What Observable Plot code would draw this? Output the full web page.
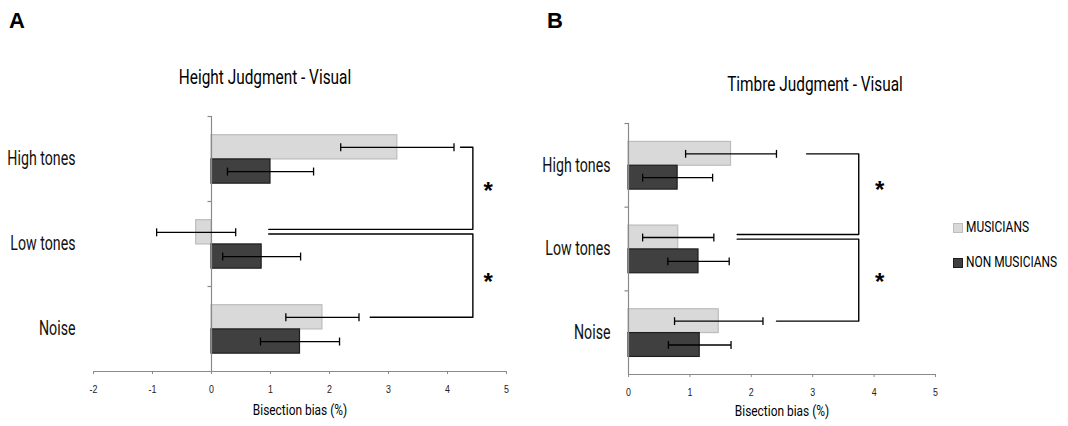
<!DOCTYPE html>
<html><head><meta charset="utf-8">
<script src="https://cdn.jsdelivr.net/npm/d3@7"></script>
<script src="https://cdn.jsdelivr.net/npm/@observablehq/plot@0.6"></script>
<style>
body{margin:0;background:#fff;}
#root{position:relative;width:1068px;height:426px;overflow:hidden;font-family:Roboto,"Liberation Sans",sans-serif;color:#000;}
.abs{position:absolute;white-space:nowrap;}
.title{font-size:20px;transform:translate(-50%,-50%) scaleX(0.77);}
.letter{font-family:"Liberation Sans",Arial,sans-serif;font-weight:bold;font-size:22px;}
.sw{position:absolute;width:8px;height:8px;}
.lg{font-size:15.5px;transform-origin:0 50%;transform:translateY(-50%) scaleX(0.77);}
</style></head><body><div id="root"></div>
<script>
const categories = ["High tones", "Low tones", "Noise"];
const groups = ["MUSICIANS", "NON MUSICIANS"];
// Panel A: Height Judgment - Visual
const heightMus = [3.15, -0.26, 1.88];
const heightMusErr = [0.96, 0.67, 0.62];
const heightNon = [1.00, 0.85, 1.50];
const heightNonErr = [0.73, 0.66, 0.67];
const xTicksA = [-2, -1, 0, 1, 2, 3, 4, 5];
// Panel B: Timbre Judgment - Visual
const timbreMus = [1.67, 0.81, 1.47];
const timbreMusErr = [0.74, 0.58, 0.72];
const timbreNon = [0.80, 1.14, 1.16];
const timbreNonErr = [0.57, 0.50, 0.51];
const xTicksB = [0, 1, 2, 3, 4, 5];
// significance brackets: from category index -> to category index, x at each end, x of spine, star position
const bracketsA = [
  {from: 0, to: 1, fromX: 4.22, toX: 0.97, spineX: 4.43, starX: 4.69, starY: 0.82},
  {from: 1, to: 2, fromX: 0.97, toX: 2.69, spineX: 4.43, starX: 4.69, starY: 1.89}
];
const bracketsB = [
  {from: 0, to: 1, fromX: 2.90, toX: 1.77, spineX: 3.75, starX: 4.09, starY: 0.74},
  {from: 1, to: 2, fromX: 1.77, toX: 2.41, spineX: 3.75, starX: 4.09, starY: 1.84}
];
const axisTitle = "Bisection bias (%)";

const GRAY = "#8a8a8a";
const MUS_FILL = "#d9d9d9", MUS_STROKE = "#bdbdbd";
const NON_FILL = "#404040", NON_STROKE = "#1e1e1e";
const MUS_Y = [0.22, 0.505], NON_Y = [0.505, 0.79];
const SQUASH = 0.77, SQUASH_CAT = 0.71;
const NS = "http://www.w3.org/2000/svg";

// horizontally condense the svg texts around their anchor point (the reference's lettering is narrow)
function squash(svg) {
  [...svg.querySelectorAll("text")].filter(t => t.textContent !== "*").forEach(el => {
    const sx = categories.includes(el.textContent) ? SQUASH_CAT : SQUASH;
    const r = el.getBoundingClientRect();
    const a = getComputedStyle(el).textAnchor;
    const px = a === "end" ? r.right : a === "middle" ? (r.left + r.right) / 2 : r.left;
    const parent = el.parentNode;
    const pt = svg.createSVGPoint(); pt.x = px; pt.y = r.top;
    const q = pt.matrixTransform(parent.getScreenCTM().inverse());
    const g = document.createElementNS(NS, "g");
    g.setAttribute("transform", `translate(${q.x},0) scale(${sx},1) translate(${-q.x},0)`);
    parent.insertBefore(g, el); g.appendChild(el);
  });
}

function panel(o) {
  const rows = [];
  categories.forEach((c, i) => {
    rows.push({cat: c, i, g: groups[0], v: o.mus[i], e: o.musErr[i], y1: i + MUS_Y[0], y2: i + MUS_Y[1]});
    rows.push({cat: c, i, g: groups[1], v: o.non[i], e: o.nonErr[i], y1: i + NON_Y[0], y2: i + NON_Y[1]});
  });
  const yc = d => (d.y1 + d.y2) / 2;
  const cap = 0.047;
  const capData = rows.flatMap(d => [{x: d.v - d.e, y: yc(d)}, {x: d.v + d.e, y: yc(d)}]);
  const mid = i => i + (MUS_Y[0] + MUS_Y[1]) / 2;
  const pts = [];
  o.brackets.forEach((b, k) => {
    const yTop = mid(b.from) + (b.from === 1 ? 0.02 : 0);
    const yBot = mid(b.to) - (b.to === 1 ? 0.035 : 0);
    pts.push({k, x: b.fromX, y: yTop}, {k, x: b.spineX, y: yTop}, {k, x: b.spineX, y: yBot}, {k, x: b.toX, y: yBot});
  });
  return Plot.plot({
    width: o.width, height: 426,
    marginLeft: o.ml, marginRight: o.mr, marginTop: o.mt, marginBottom: o.mb,
    x: {domain: o.xDomain, axis: null},
    y: {domain: [0, 3], reverse: true, axis: null},
    style: {fontFamily: 'Roboto,"Liberation Sans",sans-serif', background: "transparent", overflow: "visible"},
    marks: [
      Plot.ruleY([3], {stroke: GRAY, strokeWidth: 1}),
      Plot.axisX({ticks: o.xTicks, tickSize: 3, tickPadding: 10, tickFormat: d => String(d), label: null,
        fontSize: 11.5, fontFamily: '"Liberation Sans",Arial,sans-serif', stroke: GRAY, color: "#222"}),
      Plot.text([axisTitle], {frameAnchor: "bottom", dy: o.titleDy, fontSize: 15.5}),
      Plot.axisY({ticks: [0.5, 1.5, 2.5], tickFormat: d => categories[Math.floor(d)], tickSize: 0,
        tickPadding: o.labelPad, fontSize: 20, label: null, color: "#111"}),
      Plot.rect(rows, {x1: () => 0, x2: "v", y1: "y1", y2: "y2",
        fill: d => d.g === groups[0] ? MUS_FILL : NON_FILL,
        stroke: d => d.g === groups[0] ? MUS_STROKE : NON_STROKE, strokeWidth: 1.2}),
      Plot.ruleX([0], {stroke: GRAY, strokeWidth: 1.2}),
      Plot.link([0, 1, 2], {x1: () => o.tickLen, x2: () => 0, y1: d => d, y2: d => d, stroke: GRAY, strokeWidth: 1.2}),
      Plot.link(rows, {x1: d => d.v - d.e, x2: d => d.v + d.e, y1: yc, y2: yc, stroke: "#000", strokeWidth: 1.3}),
      Plot.link(capData, {x1: "x", x2: "x", y1: d => d.y - cap, y2: d => d.y + cap, stroke: "#000", strokeWidth: 1.3}),
      Plot.line(pts, {x: "x", y: "y", z: "k", stroke: "#000", strokeWidth: 1.4, curve: "linear"}),
      Plot.text(o.brackets, {x: "starX", y: "starY", text: () => "*", fontSize: 24, fontWeight: "bold",
        fontFamily: '"Liberation Sans",Arial,sans-serif', dy: 5})
    ]
  });
}

const root = document.getElementById("root");
function place(el, left, top) { el.style.position = "absolute"; el.style.left = left + "px"; el.style.top = top + "px"; root.appendChild(el); return el; }

const svgA = place(panel({mus: heightMus, musErr: heightMusErr, non: heightNon, nonErr: heightNonErr,
  xDomain: [-2, 5], xTicks: xTicksA, width: 534, ml: 93, mr: 28, mt: 116, mb: 55, labelPad: 18, titleDy: 43,
  brackets: bracketsA, tickLen: -0.068}), 0, 0);
const svgB = place(panel({mus: timbreMus, musErr: timbreMusErr, non: timbreNon, nonErr: timbreNonErr,
  xDomain: [0, 5], xTicks: xTicksB, width: 534, ml: 94, mr: 133, mt: 123, mb: 52, labelPad: 18, titleDy: 41,
  brackets: bracketsB, tickLen: -0.066}), 534, 0);
squash(svgA);
squash(svgB);

function div(cls, text, left, top) { const d = document.createElement("div"); d.className = "abs " + cls; d.textContent = text; d.style.left = left + "px"; d.style.top = top + "px"; root.appendChild(d); return d; }
div("letter", "A", 9, 8);
div("letter", "B", 547, 8);
div("title", "Height Judgment - Visual", 265, 77);
div("title", "Timbre Judgment - Visual", 815, 84);
// legend
const legY = [227, 262];
groups.forEach((g, i) => {
  const sw = document.createElement("div"); sw.className = "sw";
  sw.style.left = "953px"; sw.style.top = (legY[i] - 4) + "px";
  sw.style.background = i === 0 ? MUS_FILL : NON_FILL;
  sw.style.border = "1px solid " + (i === 0 ? MUS_STROKE : NON_STROKE);
  root.appendChild(sw);
  div("lg", g, 966, legY[i]);
});
</script></body></html>
